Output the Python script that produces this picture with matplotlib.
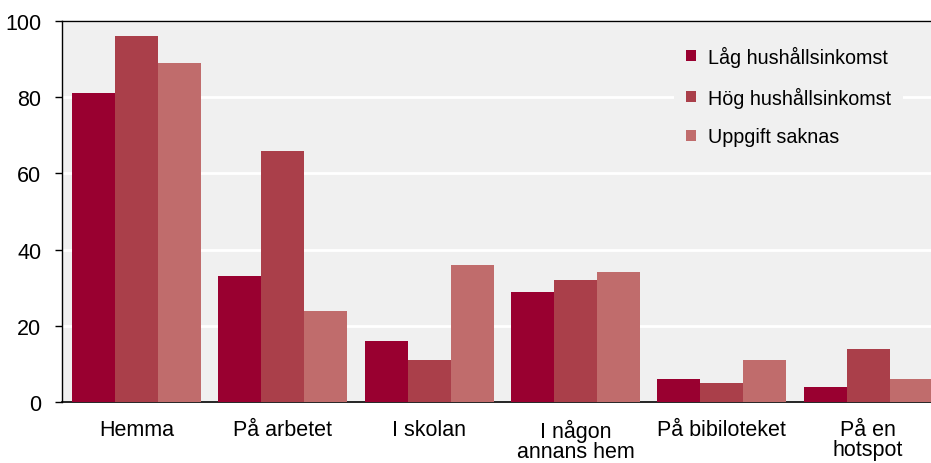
import numpy as np
import matplotlib.pyplot as plt

plt.rcParams['font.family'] = ['Liberation Sans', 'DejaVu Sans']

categories = ['Hemma', 'På arbetet', 'I skolan', 'I någon\nannans hem',
              'På bibiloteket', 'På en\nhotspot']
series_names = ['Låg hushållsinkomst', 'Hög hushållsinkomst', 'Uppgift saknas']
low_income = [81, 33, 16, 29, 6, 4]
high_income = [96, 66, 11, 32, 5, 14]
missing = [89, 24, 36, 34, 11, 6]
y_ticks = [0, 20, 40, 60, 80, 100]

colors = ['#990030', '#AA3F4A', '#C06C6C']

fig = plt.figure(figsize=(9.31, 4.64), dpi=100)
ax = fig.add_axes([62 / 931, 1 - 403 / 464, 1 - 62 / 931, (403 - 22) / 464])
ax.set_facecolor('#F0F0F0')

x = np.arange(len(categories))
w = 0.294
for i, (vals, name) in enumerate(zip([low_income, high_income, missing], series_names)):
    ax.bar(x + (i - 1) * w, vals, width=w, color=colors[i], label=name, zorder=3)

ax.set_xlim(-0.51, 5.43)
ax.set_ylim(0, 100)
ax.set_yticks(y_ticks)
ax.yaxis.grid(True, color='white', linewidth=2, zorder=1)
ax.set_axisbelow(True)

ax.set_xticks(x)
ax.set_xticklabels(categories, fontsize=15.5, linespacing=0.95, va='top')
ax.tick_params(axis='x', length=0, pad=12)
ax.tick_params(axis='y', length=5, width=1, pad=10, labelsize=15.5)

ax.spines['right'].set_visible(False)
ax.spines['top'].set_linewidth(1)
ax.spines['left'].set_linewidth(1)
ax.spines['bottom'].set_linewidth(1.2)

leg = ax.legend(loc='upper right', bbox_to_anchor=(0.979, 0.992), fontsize=14.2,
                frameon=True, facecolor='#F0F0F0', edgecolor='none', framealpha=1,
                handlelength=0.5, handleheight=0.5, handletextpad=0.6,
                labelspacing=1.0, borderpad=0.6, fancybox=False)
leg.set_zorder(5)

fig.savefig('out.png', dpi=100)
